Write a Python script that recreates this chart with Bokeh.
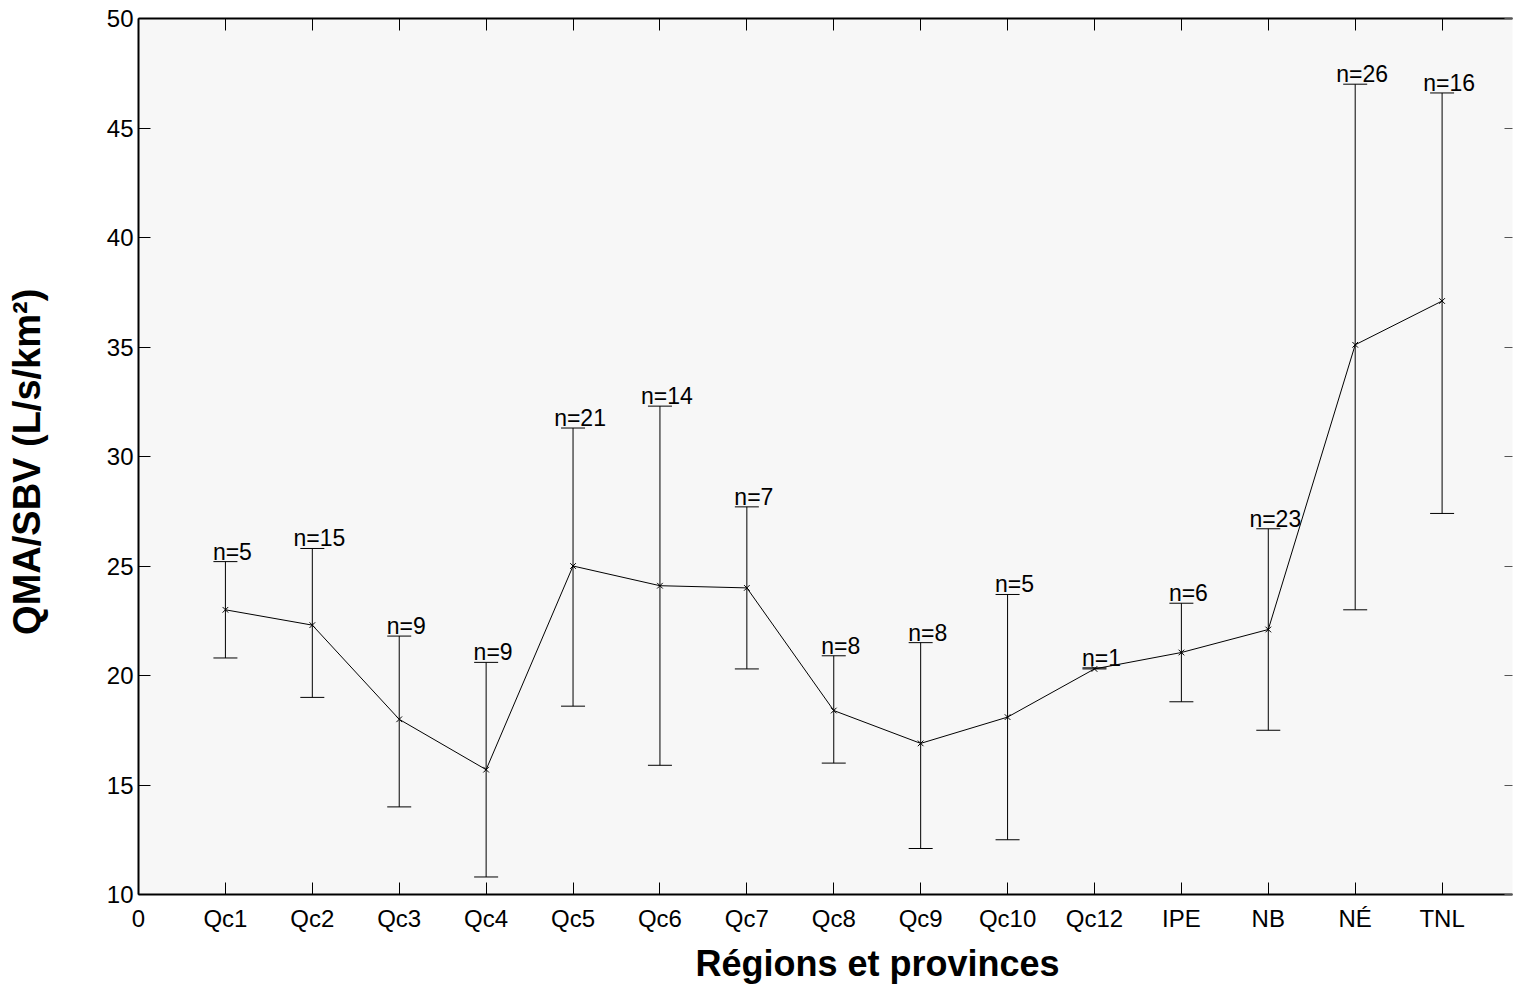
from bokeh.plotting import figure
from bokeh.models import ColumnDataSource, Whisker, TeeHead, FixedTicker, LinearAxis, Range1d, Title
from bokeh.core.properties import value
from bokeh.embed import file_html
from bokeh.resources import INLINE

categories = ["Qc1", "Qc2", "Qc3", "Qc4", "Qc5", "Qc6", "Qc7", "Qc8", "Qc9",
              "Qc10", "Qc12", "IPE", "NB", "NÉ", "TNL"]
means = [23.0, 22.3, 18.0, 15.7, 25.0, 24.1, 24.0, 18.4, 16.9, 18.1, 20.3, 21.05, 22.1, 35.1, 37.1]
uppers = [25.2, 25.8, 21.8, 20.6, 31.3, 32.3, 27.7, 20.9, 21.5, 23.7, 20.35, 23.3, 26.7, 47.0, 46.6]
lowers = [20.8, 19.0, 14.0, 10.8, 18.6, 15.9, 20.3, 16.0, 12.1, 12.5, 20.3, 18.8, 17.5, 23.0, 27.4]
counts = [5, 15, 9, 9, 21, 14, 7, 8, 8, 5, 1, 6, 23, 26, 16]
y_ticks = [10, 15, 20, 25, 30, 35, 40, 45, 50]

positions = list(range(1, len(categories) + 1))
src = ColumnDataSource(dict(
    x=positions, mean=means, upper=uppers, lower=lowers,
    label=["n=%d" % c for c in counts],
))

FONT = "Liberation Sans"

p = figure(
    output_backend="svg", toolbar_location=None,
    frame_width=1374, frame_height=876,
    min_border_left=138, min_border_right=4, min_border_top=18, min_border_bottom=10,
    x_range=Range1d(0, 15.81), y_range=Range1d(10, 50),
    background_fill_color="#f7f7f7", border_fill_color="white",
)
p.outline_line_color = None
p.xgrid.visible = False
p.ygrid.visible = False

x_ticker = FixedTicker(ticks=[0] + positions)
y_ticker = FixedTicker(ticks=y_ticks)
overrides = {0: "0"}
for pos, c in zip(positions, categories):
    overrides[pos] = c

for ax in p.xaxis:
    ax.ticker = x_ticker
    ax.major_label_overrides = overrides
    ax.major_tick_in = 12
    ax.major_tick_out = 0
    ax.minor_tick_in = 0
    ax.minor_tick_out = 0
    ax.axis_line_width = 2
    ax.major_tick_line_color = "black"
    ax.major_label_text_font = FONT
    ax.major_label_text_font_size = "24px"
    ax.major_label_text_color = "black"
    ax.major_label_standoff = 10

for ax in p.yaxis:
    ax.ticker = y_ticker
    ax.major_tick_in = 12
    ax.major_tick_out = 0
    ax.minor_tick_in = 0
    ax.minor_tick_out = 0
    ax.axis_line_width = 2
    ax.major_tick_line_color = "black"
    ax.major_label_text_font = FONT
    ax.major_label_text_font_size = "24px"
    ax.major_label_text_color = "black"
    ax.major_label_standoff = 5
    ax.axis_label = "QMA/SBV  (L/s/km²)"
    ax.axis_label_text_font = FONT
    ax.axis_label_text_font_size = "38px"
    ax.axis_label_text_font_style = "bold"
    ax.axis_label_text_color = "black"
    ax.axis_label_standoff = 56

top = LinearAxis(ticker=x_ticker, major_label_overrides={t: "" for t in [0] + positions},
                 major_label_standoff=0,
                 major_tick_in=12, major_tick_out=0, minor_tick_in=0, minor_tick_out=0,
                 axis_line_width=2, major_tick_line_color="black")
p.add_layout(top, "above")
right = LinearAxis(ticker=y_ticker, major_label_overrides={t: "" for t in y_ticks},
                   major_label_standoff=0,
                   major_tick_in=8, major_tick_out=0, minor_tick_in=0, minor_tick_out=0,
                   axis_line_color=None, major_tick_line_color="#555555")
p.add_layout(right, "right")

whisk = Whisker(source=src, base="x", upper="upper", lower="lower", dimension="height",
                line_color="black", line_width=1,
                upper_head=TeeHead(size=24, line_color="black", line_width=1),
                lower_head=TeeHead(size=24, line_color="black", line_width=1))
p.add_layout(whisk)

p.line(x="x", y="mean", source=src, line_color="black", line_width=1)
p.scatter(x="x", y="mean", source=src, marker="x", size=8, line_color="black", line_width=1)
p.text(x="x", y="upper", text="label", source=src,
       text_font=value(FONT), text_font_size="23px", text_color="black",
       text_align="center", text_baseline="alphabetic", x_offset=7, y_offset=-10)

p.add_layout(Title(text="Régions et provinces", align="left", offset=557,
                   text_font=FONT, text_font_size="36px", text_font_style="bold",
                   text_color="black", standoff=12), "below")

open("out.html", "w").write(file_html(p, INLINE))
